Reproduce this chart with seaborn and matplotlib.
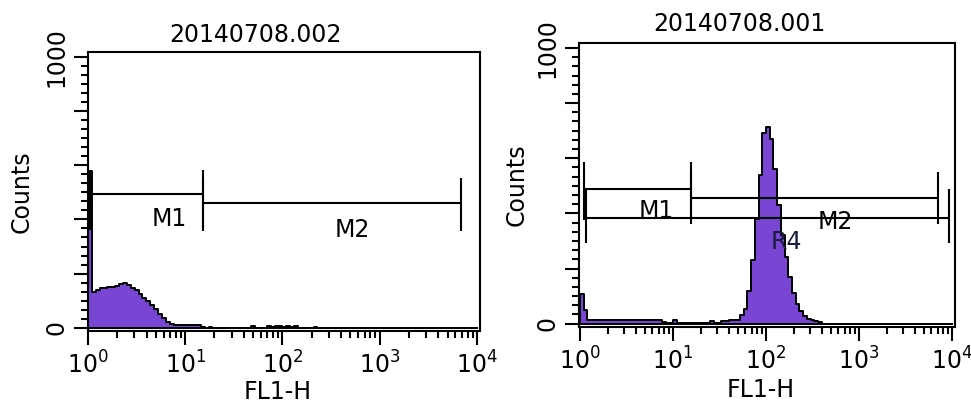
import numpy as np
import matplotlib
matplotlib.use("Agg")
import matplotlib.pyplot as plt
import seaborn as sns
from matplotlib.ticker import FixedLocator, FixedFormatter, LogLocator, MultipleLocator, NullFormatter

# ---------------- data ----------------
left_title = "20140708.002"
right_title = "20140708.001"
x_label = "FL1-H"
y_label = "Counts"
y_tick_values = [0, 200, 400, 600, 800, 1000]
y_tick_labels = ["0", "", "", "", "", "1000"]

# histogram bins: log10(FL1-H) bin centres (bin width 0.04 decade) and counts
left_log_channel = [0.02, 0.06, 0.10, 0.14, 0.18, 0.22, 0.26, 0.30, 0.34, 0.38,
                    0.42, 0.46, 0.50, 0.54, 0.58, 0.62, 0.66, 0.70, 0.74, 0.78,
                    0.82, 0.86, 0.90, 0.94, 0.98, 1.02, 1.06, 1.10, 1.14, 1.18,
                    1.26, 1.70, 1.86, 1.90, 1.94, 1.98, 2.02, 2.06, 2.10, 2.14, 2.34]
left_counts = [580, 133, 140, 145, 148, 151, 152, 154, 162, 166,
               158, 148, 138, 124, 110, 98, 85, 70, 52, 36,
               22, 14, 12, 12, 12, 12, 12, 12, 12, 3,
               4, 5, 5, 4, 5, 5, 4, 5, 4, 5, 4]

right_log_channel = [0.02, 0.06, 0.10, 0.14, 0.18, 0.22, 0.26, 0.30, 0.34, 0.38,
                     0.42, 0.46, 0.50, 0.54, 0.58, 0.62, 0.66, 0.70, 0.74, 0.78,
                     0.82, 0.86, 0.90, 0.94, 0.98, 1.02, 1.06, 1.10, 1.14, 1.18,
                     1.22, 1.26, 1.30, 1.34, 1.38, 1.42, 1.46, 1.50, 1.54, 1.58,
                     1.62, 1.66, 1.70, 1.74, 1.78, 1.82, 1.86, 1.90, 1.94, 1.98,
                     2.02, 2.06, 2.10, 2.14, 2.18, 2.22, 2.26, 2.30, 2.34, 2.38,
                     2.42, 2.46, 2.50, 2.54, 2.58]
right_counts = [109, 50, 12, 12, 12, 12, 12, 12, 12, 12,
                12, 12, 12, 12, 12, 12, 12, 12, 12, 12,
                12, 12, 6, 2, 2, 12, 2, 2, 2, 2,
                2, 2, 2, 2, 2, 8, 2, 2, 8, 8,
                12, 12, 14, 30, 55, 120, 230, 380, 540, 690,
                715, 670, 560, 430, 320, 240, 170, 110, 70, 45,
                28, 16, 12, 10, 5]

# gates (markers): x range, bar height, end-tick span, label text/position
left_gate_x0 = [1.05, 15.3]
left_gate_x1 = [15.3, 6840]
left_gate_y = [494, 461]
left_gate_tick_lo = [362, 358]
left_gate_tick_hi = [583, 553]
left_label_text = ["M1", "M2"]
left_label_x = [6.8, 519]
left_label_y = [402, 362]
left_label_color = ["black", "black"]

right_gate_x0 = [1.1, 15.6, 1.16]
right_gate_x1 = [15.6, 7070, 9280]
right_gate_y = [487, 455, 385]
right_gate_tick_lo = [375, 360, 291]
right_gate_tick_hi = [585, 549, 490]
right_label_text = ["M1", "M2", "R4"]
right_label_x = [6.6, 550, 164]
right_label_y = [407, 367, 295]
right_label_color = ["black", "black", "#1c1c3c"]

PURPLE = "#7846d2"

# ---------------- style ----------------
sns.set_style("white")
plt.rcParams["font.family"] = ["DejaVu Sans"]
plt.rcParams["mathtext.default"] = "regular"
plt.rcParams["text.color"] = "black"
plt.rcParams["axes.labelcolor"] = "black"
plt.rcParams["xtick.color"] = "black"
plt.rcParams["ytick.color"] = "black"

fig = plt.figure(figsize=(9.71, 4.07), dpi=100)
axL = fig.add_axes([0.0906, 0.1867, 0.4037, 0.6855])
axR = fig.add_axes([0.5963, 0.1966, 0.3872, 0.6978])

FS = 17


def draw_panel(ax, logc, counts, title, xlim, x0, x1, gy, tlo, thi,
               lab_text, lab_x, lab_y, lab_col, title_y):
    sns.histplot(x=10 ** np.asarray(logc), weights=counts, bins=100, binrange=(0, 4),
                 log_scale=True, element="step", fill=True, color=PURPLE, alpha=1,
                 edgecolor="black", linewidth=1.4, ax=ax)
    for a, b, y, lo, hi in zip(x0, x1, gy, tlo, thi):
        ax.plot([a, b], [y, y], color="black", lw=1.5, solid_capstyle="butt")
        ax.plot([a, a], [lo, hi], color="black", lw=1.5, solid_capstyle="butt")
        ax.plot([b, b], [lo, hi], color="black", lw=1.5, solid_capstyle="butt")
    for t, x, y, c in zip(lab_text, lab_x, lab_y, lab_col):
        ax.text(x, y, t, ha="center", va="center", fontsize=FS, color=c)

    ax.set_xscale("log")
    ax.set_xlim(*xlim)
    ax.set_ylim(-12, 1018)
    ax.xaxis.set_major_locator(LogLocator(base=10, numticks=10))
    ax.xaxis.set_minor_locator(LogLocator(base=10, subs=np.arange(2, 10), numticks=50))
    ax.xaxis.set_minor_formatter(NullFormatter())
    ax.yaxis.set_major_locator(FixedLocator(y_tick_values))
    ax.yaxis.set_major_formatter(FixedFormatter(y_tick_labels))
    ax.yaxis.set_minor_locator(MultipleLocator(200 / 6))
    ax.tick_params(axis="both", which="both", bottom=True, left=True, top=False, right=False)
    ax.tick_params(axis="both", which="major", direction="out", length=10, width=1.5,
                   labelsize=FS, color="black", labelcolor="black")
    ax.tick_params(axis="both", which="minor", direction="out", length=5, width=1.5,
                   color="black")
    ax.tick_params(axis="x", which="major", pad=5)
    ax.tick_params(axis="y", which="major", pad=4)
    for lab in ax.get_yticklabels():
        lab.set_rotation(90)
        lab.set_va("center")
    for s in ax.spines.values():
        s.set_visible(True)
        s.set_color("black")
        s.set_linewidth(1.5)
    ax.set_xlabel(x_label, fontsize=FS)
    ax.set_ylabel(y_label, fontsize=FS)
    ax.text(0.427, title_y, title, transform=ax.transAxes, ha="center", va="center",
            fontsize=FS)


draw_panel(axL, left_log_channel, left_counts, left_title, (1, 10 ** 4.031),
           left_gate_x0, left_gate_x1, left_gate_y,
           left_gate_tick_lo, left_gate_tick_hi,
           left_label_text, left_label_x, left_label_y, left_label_color, 1.061)
draw_panel(axR, right_log_channel, right_counts, right_title, (10 ** -0.01, 10 ** 4.032),
           right_gate_x0, right_gate_x1, right_gate_y,
           right_gate_tick_lo, right_gate_tick_hi,
           right_label_text, right_label_x, right_label_y, right_label_color, 1.067)

axL.xaxis.set_label_coords(0.485, -0.219)
axL.xaxis.label.set_va("center")
axR.xaxis.set_label_coords(0.484, -0.222)
axR.xaxis.label.set_va("center")
axL.yaxis.set_label_coords(-0.168, 0.5)
axL.yaxis.label.set_va("center")
axR.yaxis.set_label_coords(-0.165, 0.5)
axR.yaxis.label.set_va("center")

fig.savefig("out.png", dpi=100)
